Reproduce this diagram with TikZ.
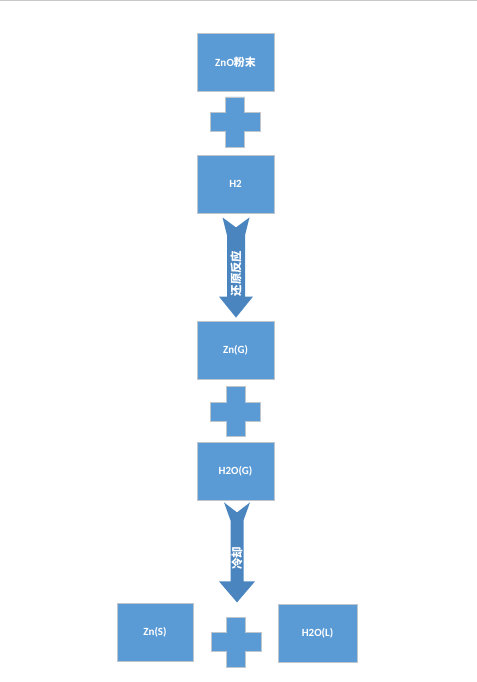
\documentclass[tikz,border=0pt]{standalone}
\usepackage{fontspec}
\setmainfont{Carlito}
\newfontfamily\cjk{Noto Sans CJK SC}
\usetikzlibrary{calc}
\definecolor{boxblue}{HTML}{5B9BD5}
\definecolor{arrowblue}{HTML}{4A85C0}
\definecolor{edgegray}{HTML}{BFC5CC}
\definecolor{topline}{HTML}{C8C8C8}
\tikzset{
  box/.style={draw=edgegray, line width=0.8bp, fill=boxblue, minimum width=77bp,
    minimum height=58bp, inner sep=0pt, text=white,
    font=\fontsize{11}{13}\selectfont\bfseries},
  arrowlabel/.style={rotate=90, text=white, inner sep=0pt,
    font=\fontsize{11.5}{13}\selectfont\cjk\bfseries},
  plusshape/.pic={
    \draw[draw=edgegray, line width=0.8bp, fill=boxblue]
      (-25,-9.5) -- (-9.5,-9.5) -- (-9.5,-25) -- (9.5,-25) -- (9.5,-9.5)
      -- (25,-9.5) -- (25,9.5) -- (9.5,9.5) -- (9.5,25) -- (-9.5,25)
      -- (-9.5,9.5) -- (-25,9.5) -- cycle;
  }
}
\newcommand\blockarrow[6]{% #1 tail coord, #2 tip coord, #3 shaft half width, #4 tail half width, #5 head half width, #6 label
  \fill[arrowblue]
    ($(#1)+(-#4,0)$) -- ($(#1)+(0,10)$) -- ($(#1)+(#4,0)$) -- ($(#1)+(#3,18)$)
    -- ($(#2)+(#3,-21)$) -- ($(#2)+(#5,-21)$) -- (#2) -- ($(#2)+(-#5,-21)$)
    -- ($(#2)+(-#3,-21)$) -- ($(#1)+(-#3,18)$) -- cycle;
  \node[arrowlabel] at ($(#1)!0.56!(#2)$) {#6};
}
\begin{document}
\begin{tikzpicture}[x=1bp,y=-1bp]
\useasboundingbox (0,0) rectangle (477,682);
\coordinate (tl) at (0,0.75);
\coordinate (tr) at (477,0.75);
\draw[topline, line width=1.5bp] (tl) -- (tr);

\node[box] (zno) at (235.5,62) {Zn\kern0.3ptO{\cjk\bfseries 粉末}};
\pic at (235,122) {plusshape};
\node[box] (h2) at (235.5,184) {H2};

\node[box] (zng) at (235.5,350) {Zn(G)};
\pic at (235.5,411.5) {plusshape};
\node[box] (h2og) at (235.5,471) {H2O(G)};

\node[box, minimum width=76bp] (zns) at (155,632.5) {Zn(S)};
\pic at (236,642) {plusshape};
\node[box, minimum width=79bp] (h2ol) at (317.5,633.5) {H2O(L)};

\coordinate (a1s) at ($(h2.south)+(0.5,4)$);
\coordinate (a1e) at ($(zng.north)+(0.5,-3)$);
\blockarrow{a1s}{a1e}{9}{13.5}{17}{还原反应}

\coordinate (a2s) at ($(h2og.south)+(1.5,2)$);
\coordinate (a2e) at ($(h2og.south)+(1.5,102)$);
\blockarrow{a2s}{a2e}{6.5}{13}{18}{冷却}
\end{tikzpicture}
\end{document}
